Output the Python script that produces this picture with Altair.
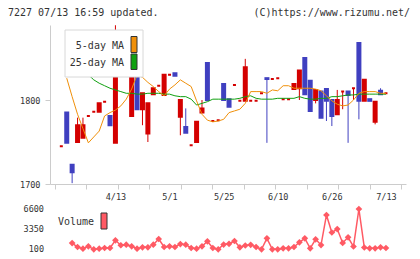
import altair as alt
import numpy as np
import pandas as pd

# ---- daily candles, oldest first (yen) ----
opens = [1745, 1785, 1723, 1750, 1755, 1781, 1786, 1786, 1798, 1781,
         1749, 1837, 1839, 1781, 1830, 1789, 1760, 1807, 1817, 1806,
         1830, 1832, 1780, 1768, 1746, 1750, 1785, 1844, 1775, 1776,
         1819, 1801, 1818, 1799, 1799, 1799, 1799, 1808, 1826, 1825,
         1826, 1801, 1801, 1813, 1814, 1850, 1823, 1800, 1810, 1813,
         1800, 1783, 1810, 1810, 1814, 1868, 1799, 1801, 1774, 1811,
         1808]
highs = [1745, 1785, 1723, 1779, 1779, 1781, 1786, 1796, 1798, 1781,
         1889, 1837, 1839, 1827, 1830, 1808, 1796, 1814, 1817, 1830,
         1830, 1832, 1800, 1790, 1746, 1774, 1800, 1844, 1775, 1776,
         1819, 1801, 1818, 1799, 1849, 1799, 1799, 1808, 1826, 1825,
         1826, 1801, 1801, 1819, 1835, 1850, 1823, 1812, 1810, 1813,
         1800, 1812, 1810, 1810, 1814, 1868, 1824, 1801, 1798, 1814,
         1808]
lows = [1745, 1749, 1701, 1750, 1755, 1781, 1786, 1786, 1798, 1770,
        1749, 1837, 1838, 1781, 1789, 1770, 1750, 1807, 1817, 1806,
        1830, 1829, 1758, 1761, 1746, 1750, 1785, 1800, 1775, 1776,
        1800, 1792, 1818, 1799, 1799, 1799, 1799, 1808, 1749, 1825,
        1826, 1801, 1801, 1813, 1800, 1807, 1787, 1796, 1779, 1775,
        1769, 1783, 1789, 1749, 1800, 1777, 1799, 1799, 1771, 1807,
        1808]
closes = [1745, 1749, 1714, 1770, 1770, 1781, 1786, 1796, 1798, 1770,
          1860, 1837, 1838, 1827, 1789, 1808, 1796, 1814, 1817, 1830,
          1830, 1829, 1800, 1761, 1746, 1774, 1790, 1800, 1775, 1776,
          1800, 1792, 1818, 1799, 1839, 1799, 1799, 1808, 1825, 1825,
          1826, 1801, 1801, 1819, 1835, 1807, 1787, 1812, 1779, 1799,
          1781, 1800, 1810, 1806, 1814, 1799, 1824, 1799, 1798, 1807,
          1808]

# moving averages (first day has no value on the chart)
ma5 = [None, 1826, 1804, 1783, 1766, 1749, 1756, 1763, 1781, 1785,
       1788, 1793, 1801, 1813, 1830, 1827, 1821, 1816, 1810, 1805,
       1813, 1818, 1824, 1820, 1816, 1799, 1783, 1776, 1774, 1775,
       1777, 1785, 1787, 1789, 1796, 1810, 1810, 1810, 1808, 1812,
       1811, 1817, 1817, 1814, 1814, 1814, 1814, 1813, 1811, 1805,
       1799, 1795, 1793, 1794, 1800, 1808, 1810, 1810, 1810, 1808,
       1808]
ma25 = [None, 1857, 1851, 1844, 1837, 1830, 1824, 1820, 1817, 1814,
        1812, 1810, 1808, 1808, 1807, 1807, 1808, 1808, 1808, 1807,
        1807, 1805, 1804, 1804, 1801, 1794, 1796, 1798, 1801, 1801,
        1801, 1801, 1801, 1802, 1804, 1805, 1802, 1801, 1801, 1801,
        1802, 1802, 1802, 1802, 1804, 1802, 1801, 1801, 1802, 1802,
        1804, 1804, 1805, 1806, 1806, 1807, 1807, 1807, 1807, 1807,
        1807]

# traded volume (first two days fall outside the volume panel)
volume = [None, None, 1100, 470, 200, 580, 100, 200, 310, 310,
          1550, 750, 840, 580, 200, 420, 420, 840, 1760, 470,
          580, 470, 950, 840, 310, 200, 580, 1390, 310, 100,
          870, 990, 1440, 420, 710, 820, 470, 100, 1870, 100,
          100, 260, 260, 470, 1230, 1870, 260, 1710, 790, 5630,
          2810, 3370, 1120, 2040, 550, 6600, 390, 260, 260, 420,
          310]

date_labels = ["4/13", "5/1", "5/25", "6/10", "6/26", "7/13"]
date_label_days = [10, 20, 30, 40, 50, 60]
price_ticks = [1700, 1800]
volume_ticks = [100, 3350, 6600]

# ---- styling ----
RED = "#d40000"
BLUE = "#4040c0"
ORANGE = "#f0900a"
GREEN = "#10a010"
VOLC = "#ff5a64"
AXC = "#cccccc"
TXT = "#333333"
FONT = "DejaVu Sans Mono"

W, H = 356, 159           # price panel
STEP = 5.567              # pixels per trading day
LEAD = 6.5                # gap before the first candle
x_dom = [-LEAD / STEP, (W - LEAD) / STEP]
tick_days = [(k * W / 11 - LEAD) / STEP for k in range(12)]

xscale = alt.Scale(domain=x_dom, nice=False, zero=False)
pscale = alt.Scale(domain=[1700, 1889.3], nice=False, zero=False)
vscale = alt.Scale(domain=[100, 6600], range=[224.3, 184], nice=False, zero=False)

n = len(opens)
df = pd.DataFrame({
    "day": range(n), "open": opens, "high": highs, "low": lows,
    "close": closes, "ma5": ma5, "ma25": ma25,
})
df["dir"] = np.where(df["close"] >= df["open"], "up", "down")

vdf = pd.DataFrame({"day": range(n), "volume": volume}).dropna()
vtick_df = pd.DataFrame({"v": volume_ticks, "t": [str(v) for v in volume_ticks]})

dir_scale = alt.Scale(domain=["up", "down"], range=[RED, BLUE])

# one bottom axis: plain ticks at the grid positions, date text at the labelled days
days_js = "[" + ",".join(str(d) for d in date_label_days) + "]"
labels_js = "[" + ",".join("'%s'" % s for s in date_labels) + "]"
is_label = "indexof(%s, datum.value) >= 0" % days_js
label_expr = "%s ? %s[indexof(%s, datum.value)] : ''" % (is_label, labels_js, days_js)

x_axis = alt.Axis(
    orient="bottom", values=tick_days + date_label_days, labelExpr=label_expr,
    title=None, grid=False, domainColor=AXC, tickSize=5,
    tickColor={"condition": {"test": is_label, "value": "transparent"}, "value": AXC},
    labelPadding=3, labelFont=FONT, labelFontSize=8.5, labelColor=TXT,
    labelFlush=False, labelOverlap=False,
)
y_price_axis = alt.Axis(orient="left", values=price_ticks, format="d", title=None,
                        grid=False, domainColor=AXC, tickColor=AXC, tickSize=5,
                        labelPadding=5, labelFont=FONT, labelFontSize=8.5, labelColor=TXT)

X = alt.X("day:Q", scale=xscale, axis=x_axis)

base = alt.Chart(df)

wicks = base.mark_rule(strokeWidth=1).encode(
    x=X,
    y=alt.Y("low:Q", scale=pscale, axis=y_price_axis),
    y2="high:Q",
    color=alt.Color("dir:N", scale=dir_scale, legend=None),
)
# candle bodies: a 2px outline keeps flat (open == close) days visible as dashes
bodies = base.mark_bar(size=3, strokeWidth=2).encode(
    x=X,
    y=alt.Y("open:Q", scale=pscale, axis=None),
    y2="close:Q",
    color=alt.Color("dir:N", scale=dir_scale, legend=None),
    stroke=alt.Stroke("dir:N", scale=dir_scale, legend=None),
)
ma5_line = base.mark_line(color=ORANGE, strokeWidth=1).encode(
    x=X,
    y=alt.Y("ma5:Q", scale=pscale, axis=None),
)
ma25_line = base.mark_line(color=GREEN, strokeWidth=1).encode(
    x=X,
    y=alt.Y("ma25:Q", scale=pscale, axis=None),
)

vol_line = alt.Chart(vdf).mark_line(
    color=VOLC, strokeWidth=1.5,
    point=alt.OverlayMarkDef(shape="diamond", size=45, filled=True, color=VOLC),
).encode(
    x=X,
    y=alt.Y("volume:Q", scale=vscale, axis=None),
)
vol_ticks = alt.Chart(vtick_df).mark_text(
    align="right", baseline="middle", font=FONT, fontSize=8.5, color=TXT,
).encode(
    x=alt.value(-6),
    y=alt.Y("v:Q", scale=vscale, axis=None),
    text="t:N",
)

one = pd.DataFrame({"k": [0]})


def box(x, x2, y, y2, fill, stroke, sw=1):
    return alt.Chart(one).mark_rect(fill=fill, stroke=stroke, strokeWidth=sw).encode(
        x=alt.value(x), x2=alt.value(x2), y=alt.value(y), y2=alt.value(y2))


def label(text, x, y, align, size=10):
    return alt.Chart(pd.DataFrame({"t": [text]})).mark_text(
        align=align, baseline="middle", font=FONT, fontSize=size, color=TXT,
    ).encode(x=alt.value(x), y=alt.value(y), text="t:N")


legend = [
    box(15, 93, 5, 52, "white", "#d8d8d8"),
    label("5-day MA", 74, 21, "right"),
    label("25-day MA", 74, 38, "right"),
    box(81, 87, 11.5, 27.5, ORANGE, "#333333"),
    box(81, 87, 29, 44.5, GREEN, "#333333"),
    label("Volume", 44, 197, "right"),
    box(51, 57, 188, 204, VOLC, "#333333"),
    label("7227 07/13 16:59 updated.", -42, -12, "left"),
    label("(C)https://www.rizumu.net/", 360, -12, "right"),
]

chart = alt.layer(
    wicks, bodies, ma25_line, ma5_line, vol_line, vol_ticks, *legend
).resolve_scale(
    y="independent"
).properties(
    width=W, height=H,
    autosize=alt.AutoSizeParams(type="none"),
    padding={"left": 50, "top": 25, "right": 14, "bottom": 75},
).configure_view(strokeWidth=0)

chart.save("out.html", embed_options={"renderer": "svg", "actions": False})
